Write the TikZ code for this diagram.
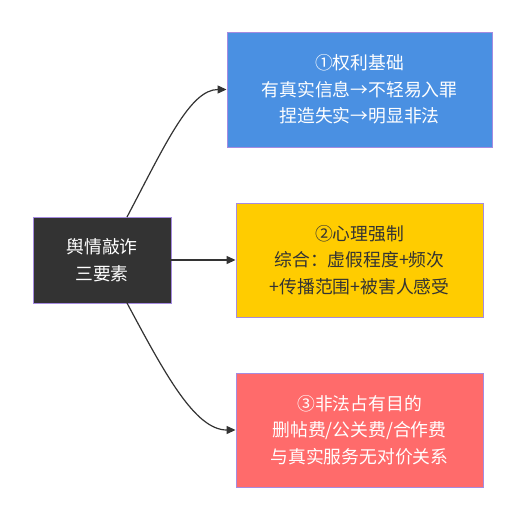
\documentclass[tikz,border=0pt]{standalone}
\usepackage{fontspec}
\setmainfont{Noto Sans CJK SC}
\usetikzlibrary{arrows.meta}
\definecolor{bord}{HTML}{A58BE0}
\definecolor{cdark}{HTML}{333333}
\definecolor{cblue}{HTML}{4A90E2}
\definecolor{cyel}{HTML}{FFCC00}
\definecolor{cred}{HTML}{FF6B6B}
\tikzset{
  box/.style={draw=bord, line width=0.9pt, align=center, inner sep=0pt,
    font=\fontsize{17.8}{26.5}\selectfont},
  conn/.style={draw=cdark, line width=1.2pt, -{Triangle[length=9pt,width=8pt]}},
}
\begin{document}
\begin{tikzpicture}[x=1pt,y=-1pt]
\useasboundingbox (0,0) rectangle (524,520);
\fill[white] (0,0) rectangle (524,520);
\node[box, fill=cdark, text=white, minimum width=138pt, minimum height=86pt] (root) at (102,260) {舆情敲诈\\三要素};
\node[box, fill=cblue, text=white, minimum width=265pt, minimum height=115pt] (b1) at (359.5,89.5) {①权利基础\\有真实信息→不轻易入罪\\捏造失实→明显非法};
\node[box, fill=cyel, text=cdark, minimum width=247pt, minimum height=114pt] (b2) at (359.5,260) {②心理强制\\综合：虚假程度+频次\\+传播范围+被害人感受};
\node[box, fill=cred, text=white, minimum width=247pt, minimum height=114pt] (b3) at (359.5,430) {③非法占有目的\\删帖费/公关费/合作费\\与真实服务无对价关系};
\coordinate (s1) at (127,217);
\coordinate (s3) at (127,303);
\draw[conn] (s1) .. controls (165,145) and (190,89.5) .. (b1.west);
\draw[conn] (root.east) -- (b2.west);
\draw[conn] (s3) .. controls (165,374) and (195,430) .. (b3.west);
\end{tikzpicture}
\end{document}
